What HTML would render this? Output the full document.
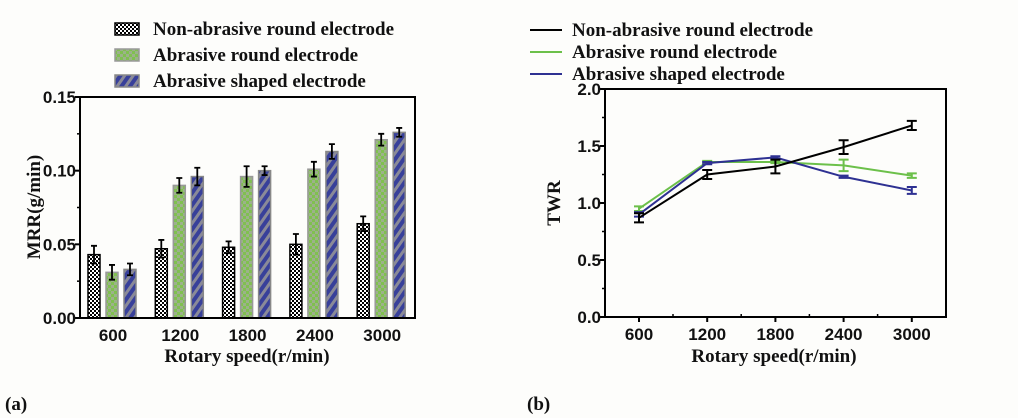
<!DOCTYPE html>
<html><head><meta charset="utf-8"><style>
body{margin:0;background:#fdfdfb;}
svg{display:block;}
.tick{font-family:"Liberation Sans",sans-serif;font-weight:bold;font-size:17px;fill:#111;}
.ttl{font-family:"Liberation Serif",serif;font-weight:bold;font-size:19px;fill:#111;}
</style></head><body>
<svg width="1018" height="418" viewBox="0 0 1018 418">
<defs>
<pattern id="chk" width="4" height="4" patternUnits="userSpaceOnUse"><rect width="4" height="4" fill="#fff"/><rect width="2" height="2" fill="#000"/><rect x="2" y="2" width="2" height="2" fill="#000"/></pattern>
<pattern id="grn" width="6" height="6" patternUnits="userSpaceOnUse"><rect width="6" height="6" fill="#80c050"/><rect width="3" height="3" fill="#9cb28a"/><rect x="3" y="3" width="3" height="3" fill="#9cb28a"/></pattern>
<pattern id="blu" width="7" height="7" patternUnits="userSpaceOnUse" patternTransform="rotate(35)"><rect width="7" height="7" fill="#8a8a98"/><rect width="4" height="7" fill="#38409a"/></pattern>
</defs>
<g id="left"></g>
<g id="right"></g>
<text class="ttl" x="5" y="410">(a)</text>
<text class="ttl" x="527" y="410">(b)</text>
</svg>
<script>
const categories=["600","1200","1800","2400","3000"];
const mrrNon=[0.043,0.047,0.048,0.050,0.064];
const mrrNonErr=[0.006,0.006,0.004,0.007,0.005];
const mrrAbr=[0.031,0.090,0.096,0.101,0.121];
const mrrAbrErr=[0.005,0.005,0.007,0.005,0.004];
const mrrShp=[0.033,0.096,0.100,0.113,0.126];
const mrrShpErr=[0.004,0.006,0.003,0.005,0.003];
const mrrTicks=["0.00","0.05","0.10","0.15"];
const twrNon=[0.87,1.25,1.32,1.49,1.68];
const twrNonErr=[0.04,0.04,0.06,0.06,0.04];
const twrAbr=[0.95,1.36,1.36,1.33,1.24];
const twrAbrErr=[0.02,0.01,0.01,0.05,0.02];
const twrShp=[0.90,1.35,1.40,1.23,1.11];
const twrShpErr=[0.02,0.01,0.01,0.01,0.03];
const twrTicks=["0.0","0.5","1.0","1.5","2.0"];
const legendNames=["Non-abrasive round electrode","Abrasive round electrode","Abrasive shaped electrode"];

const NS="http://www.w3.org/2000/svg";
function mk(p,t,a){const e=document.createElementNS(NS,t);for(const k in a)e.setAttribute(k,a[k]);p.appendChild(e);return e;}

(function(){
const g=document.getElementById('left');
const X0=80,X1=415,Y0=318,Y1=97;
const y=v=>Y0-(v/0.15)*(Y0-Y1);
const x=i=>113+i*67.3;
mrrTicks.forEach((t,i)=>{const v=+t;const yy=y(v);
 const l=mk(g,'line',{x1:X0-5,x2:X0,y1:yy,y2:yy,stroke:'#000','stroke-width':2});
 
 const tx=mk(g,'text',{x:X0-4,y:yy+6,'text-anchor':'end',class:'tick'});tx.textContent=t;
 
 if(i<mrrTicks.length-1){const ym=y(v+0.025);const m=mk(g,'line',{x1:X0-3,x2:X0,y1:ym,y2:ym,stroke:'#000','stroke-width':1.5});}
});
const series=[[mrrNon,mrrNonErr,'url(#chk)','#000',-18],[mrrAbr,mrrAbrErr,'url(#grn)','#999',0],[mrrShp,mrrShpErr,'url(#blu)','#888',18]];
categories.forEach((c,i)=>{
 series.forEach((s,j)=>{const cx=x(i)+s[4]-1;const top=y(s[0][i]);
  const r=mk(g,'rect',{x:cx-6,y:top,width:12,height:Y0-top,fill:s[2],stroke:s[3],'stroke-width':1.5});
  
  const e1=y(s[0][i]+s[1][i]),e2=y(s[0][i]-s[1][i]);
  const p=mk(g,'path',{d:`M${cx},${e1}V${e2}M${cx-3},${e1}H${cx+3}M${cx-3},${e2}H${cx+3}`,stroke:'#000','stroke-width':1.8,fill:'none'});
  
 });
 const t=mk(g,'text',{x:x(i),y:Y0+23,'text-anchor':'middle',class:'tick'});t.textContent=c;
 
});
const ax=mk(g,'rect',{x:X0,y:Y1,width:X1-X0,height:Y0-Y1,fill:'none',stroke:'#000','stroke-width':2});

const yt=mk(g,'text',{transform:`translate(40,207) rotate(-90)`,'text-anchor':'middle',class:'ttl'});yt.textContent='MRR(g/min)';

const xt=mk(g,'text',{x:247,y:362,'text-anchor':'middle',class:'ttl'});xt.textContent='Rotary speed(r/min)';

const fills=['url(#chk)','url(#grn)','url(#blu)'],strokes=['#000','#999','#888'];
legendNames.forEach((n,i)=>{const yy=29+i*26;
 const sw=mk(g,'rect',{x:115,y:yy-6,width:24,height:12,fill:fills[i],stroke:strokes[i],'stroke-width':1.5});
 
 const t=mk(g,'text',{x:153,y:yy+6,class:'ttl'});t.textContent=n;
 
});
})();

(function(){
const g=document.getElementById('right');
const X0=605,X1=946,Y0=317,Y1=89;
const y=v=>Y0-(v/2)*(Y0-Y1);
const x=i=>639+i*68.2;
twrTicks.forEach((t,i)=>{const v=+t;const yy=y(v);
 const l=mk(g,'line',{x1:X0-5,x2:X0,y1:yy,y2:yy,stroke:'#000','stroke-width':2});
 
 const tx=mk(g,'text',{x:X0-4,y:yy+6,'text-anchor':'end',class:'tick'});tx.textContent=t;
 
 if(i<twrTicks.length-1){const ym=y(v+0.25);const m=mk(g,'line',{x1:X0-3,x2:X0,y1:ym,y2:ym,stroke:'#000','stroke-width':1.5});}
});
categories.forEach((c,i)=>{
 const l=mk(g,'line',{x1:x(i),x2:x(i),y1:Y0,y2:Y0+5,stroke:'#000','stroke-width':2});
 
 if(i<4){const m=mk(g,'line',{x1:x(i)+34,x2:x(i)+34,y1:Y0-3,y2:Y0,stroke:'#000','stroke-width':1.5});}
 const t=mk(g,'text',{x:x(i),y:Y0+23,'text-anchor':'middle',class:'tick'});t.textContent=c;
 
});
const series=[[twrAbr,twrAbrErr,'#6cc04a','green'],[twrShp,twrShpErr,'#2e3192','blue'],[twrNon,twrNonErr,'#000','black']];
series.forEach(s=>{
 const d=s[0].map((v,i)=>(i?'L':'M')+x(i)+','+y(v)).join('');
 const p=mk(g,'path',{d:d,stroke:s[2],'stroke-width':2,fill:'none'});
 
 s[0].forEach((v,i)=>{const cx=x(i),e1=y(v+s[1][i]),e2=y(v-s[1][i]);
  const e=mk(g,'path',{d:`M${cx},${e1}V${e2}M${cx-5},${e1}H${cx+5}M${cx-5},${e2}H${cx+5}`,stroke:s[2],'stroke-width':2,fill:'none'});
  
 });
});
const ax=mk(g,'rect',{x:X0,y:Y1,width:X1-X0,height:Y0-Y1,fill:'none',stroke:'#000','stroke-width':2});

const yt=mk(g,'text',{transform:`translate(560,203) rotate(-90)`,'text-anchor':'middle',class:'ttl'});yt.textContent='TWR';

const xt=mk(g,'text',{x:774,y:362,'text-anchor':'middle',class:'ttl'});xt.textContent='Rotary speed(r/min)';

const cols=['#000','#6cc04a','#2e3192'];
legendNames.forEach((n,i)=>{const yy=30+i*22;
 const l=mk(g,'line',{x1:530,x2:562,y1:yy,y2:yy,stroke:cols[i],'stroke-width':2});
 
 const t=mk(g,'text',{x:572,y:yy+6,class:'ttl'});t.textContent=n;
 
});
})();
</script>
</body></html>
